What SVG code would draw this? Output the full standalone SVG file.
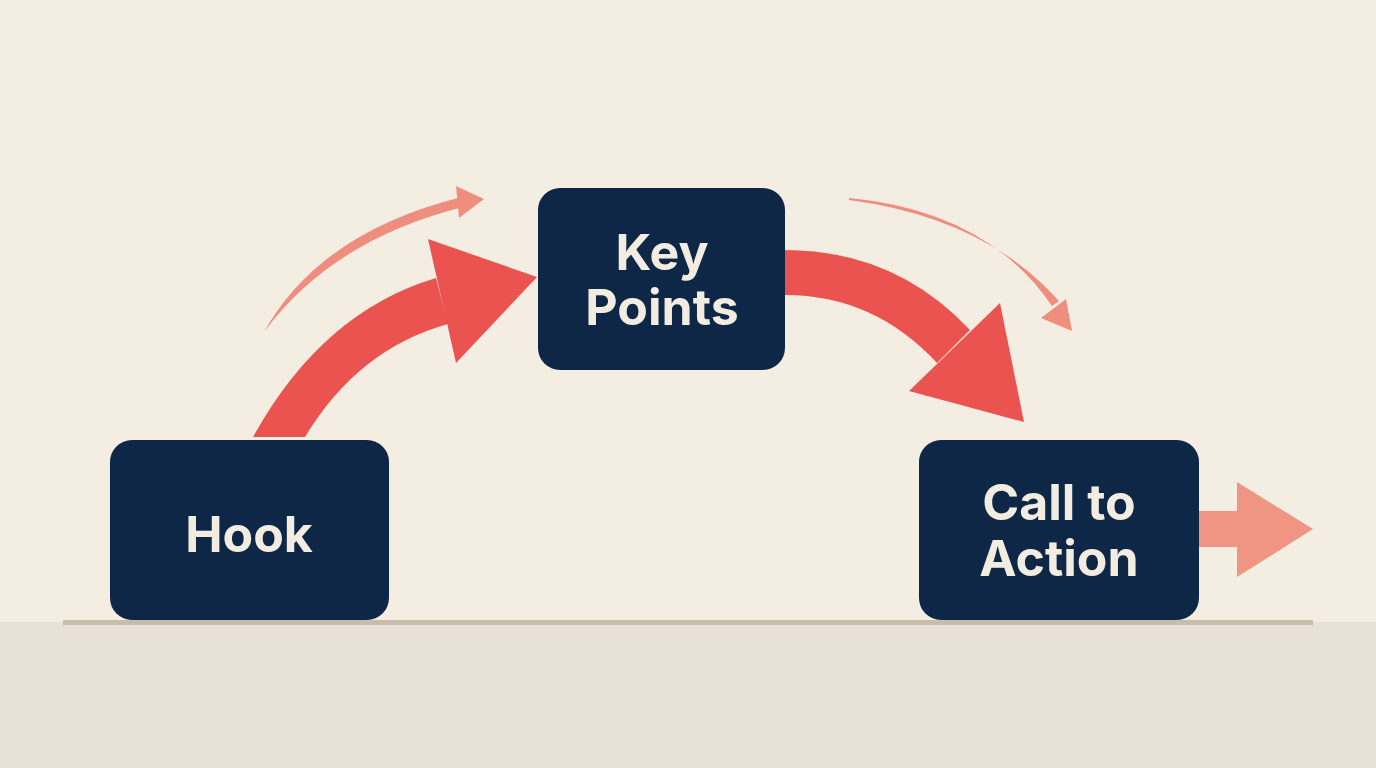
<svg xmlns="http://www.w3.org/2000/svg" width="1376" height="768" viewBox="0 0 1376 768">
<style>
.box{fill:#0E2747}
.lbl{font-family:Inter,"Open Sans","Liberation Sans",sans-serif;font-weight:700;font-size:50px;fill:#F2EDE0;text-anchor:middle}
.main{fill:#EA5350}
.light{fill:#EF8E7E}
.right{fill:#F09484}
</style>
<rect x="0" y="0" width="1376" height="768" fill="#F3EEE1"/>
<rect x="0" y="622" width="1376" height="146" fill="#E8E2D6"/>
<rect x="63" y="620" width="1250" height="5" fill="#C8BCAA"/>
<g id="connectors">
  <path class="main" d="M253,437 Q322,312 436,278 L448,324 Q358,349 305,437 Z"/>
  <polygon class="main" points="428,239 537,277 456,363"/>
  <path class="light" d="M264,332 Q320,232 462,197 L463,207 Q332,240 264,332 Z"/>
  <polygon class="light" points="456,186 484,199 459,218"/>
  <path class="main" d="M785,250 Q895,250 970,330 L937,363 Q874,295 785,295 Z"/>
  <polygon class="main" points="1000,303 1024,422 909,391"/>
  <path class="light" d="M849,198 Q987,211 1052,306 L1059,301 Q985,218 849,200 Z"/>
  <polygon class="light" points="1066,299 1072,331 1041,318"/>
  <polygon class="right" points="1199,511 1237,511 1237,482 1313,529 1237,577 1237,547 1199,547"/>
</g>
<g id="hook">
  <rect class="box" x="110" y="440" width="279" height="180" rx="22"/>
  <text class="lbl" x="249" y="552" font-size="53">Hook</text>
</g>
<g id="key-points">
  <rect class="box" x="538" y="188" width="247" height="182" rx="22"/>
  <text class="lbl" x="662" y="270">Key</text>
  <text class="lbl" x="662" y="325">Points</text>
</g>
<g id="call-to-action">
  <rect class="box" x="919" y="440" width="280" height="180" rx="22"/>
  <text class="lbl" x="1059" y="520">Call to</text>
  <text class="lbl" x="1059" y="576">Action</text>
</g>
</svg>
